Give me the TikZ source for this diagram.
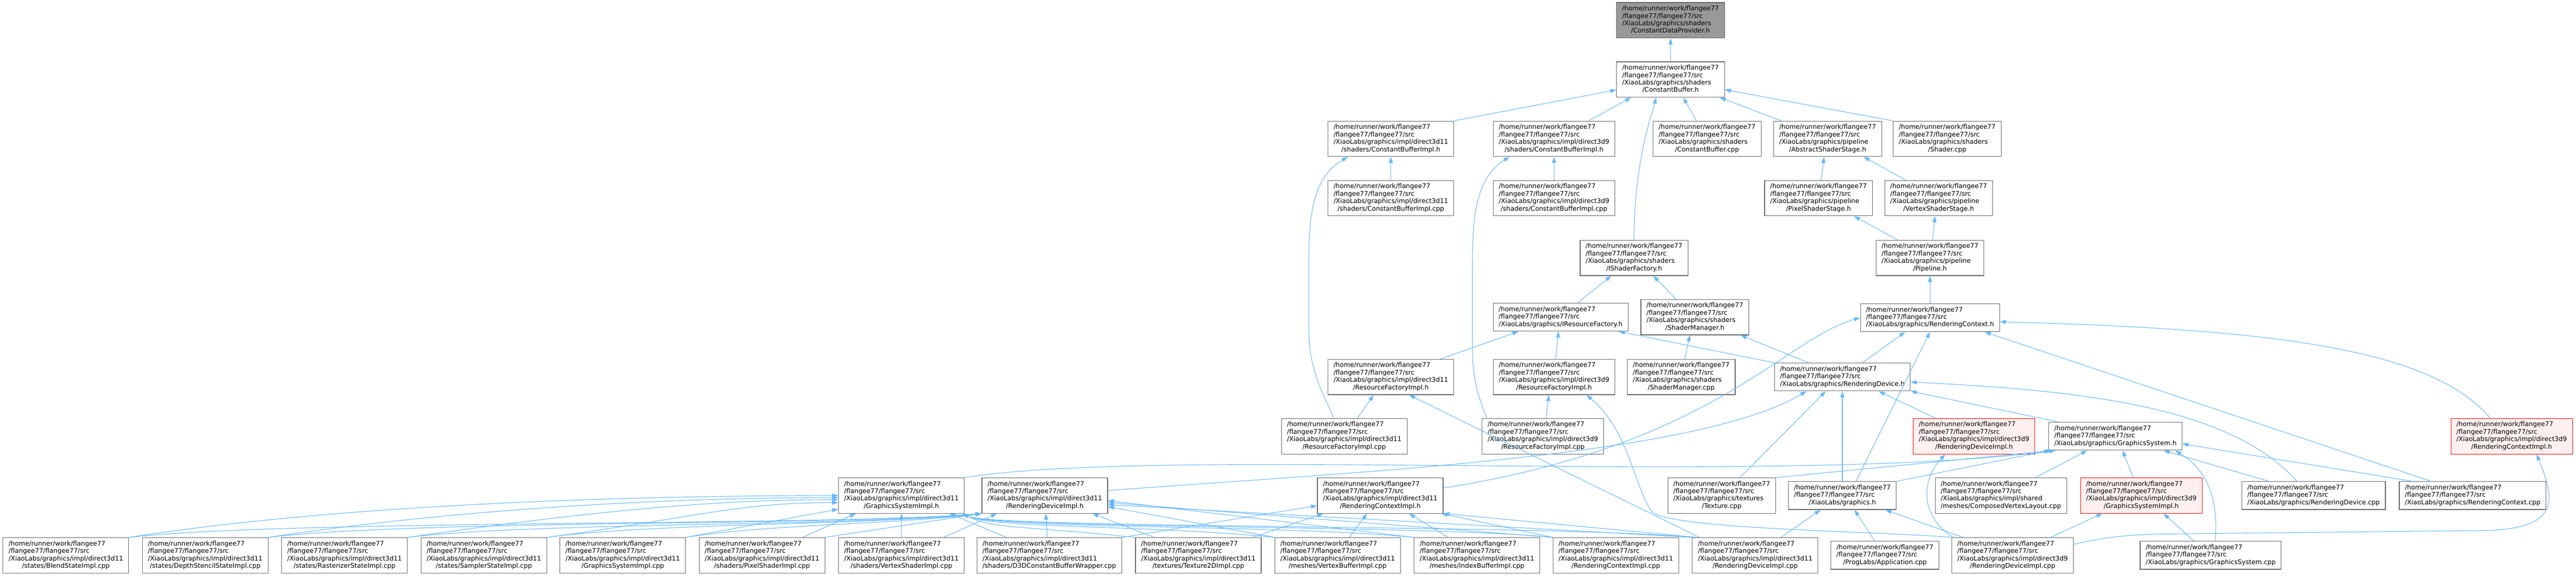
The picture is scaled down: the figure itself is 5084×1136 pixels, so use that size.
\documentclass[tikz,border=0pt]{standalone}
\usepackage{fontspec}
\setmainfont{DejaVu Sans}
\usetikzlibrary{arrows.meta}
\definecolor{boxgray}{HTML}{666666}
\definecolor{rootgray}{HTML}{999999}
\definecolor{edgeblue}{HTML}{63B8FF}
\definecolor{cutpink}{HTML}{FFF0F0}
\def\srcpath{/home/runner/work/flangee77\\/flangee77/flangee77/src}
\newcommand\flab[2]{\begin{tabular}{@{}l@{}}#1\\\multicolumn{1}{@{}c@{}}{#2}\end{tabular}}
\def\dinc{\draw[incl]}
\tikzset{
  filenode/.style={draw=boxgray, fill=white, line width=1.2pt, inner xsep=11pt, inner ysep=5.5pt,
    font=\fontsize{12.77}{14.7}\selectfont},
  rootnode/.style={filenode, fill=rootgray},
  cutnode/.style={filenode, draw=red, fill=cutpink},
  incl/.style={<-, >={Triangle[length=12pt,width=8pt]}, draw=edgeblue, line width=1.1pt},
}

\begin{document}
\begin{tikzpicture}[x=1pt,y=-1pt]
\path[use as bounding box, fill=white] (0,0) rectangle (5084,1136);

% upper part
\node[rootnode] (cdp) at (3297,40) {\flab{\srcpath\\/XiaoLabs/graphics/shaders}{/ConstantDataProvider.h}};
\node[filenode] (cb) at (3297,157) {\flab{\srcpath\\/XiaoLabs/graphics/shaders}{/ConstantBuffer.h}};
\node[filenode] (cb11h) at (2745,274) {\flab{\srcpath\\/XiaoLabs/graphics/impl/direct3d11}{/shaders/ConstantBufferImpl.h}};
\node[filenode] (cb9h) at (3067,274) {\flab{\srcpath\\/XiaoLabs/graphics/impl/direct3d9}{/shaders/ConstantBufferImpl.h}};
\node[filenode] (cbcpp) at (3369,274) {\flab{\srcpath\\/XiaoLabs/graphics/shaders}{/ConstantBuffer.cpp}};
\node[filenode] (ass) at (3607,274) {\flab{\srcpath\\/XiaoLabs/graphics/pipeline}{/AbstractShaderStage.h}};
\node[filenode] (shcpp) at (3843,274) {\flab{\srcpath\\/XiaoLabs/graphics/shaders}{/Shader.cpp}};
\node[filenode] (cb11cpp) at (2745,391) {\flab{\srcpath\\/XiaoLabs/graphics/impl/direct3d11}{/shaders/ConstantBufferImpl.cpp}};
\node[filenode] (cb9cpp) at (3067,391) {\flab{\srcpath\\/XiaoLabs/graphics/impl/direct3d9}{/shaders/ConstantBufferImpl.cpp}};
\node[filenode] (pss) at (3589,391) {\flab{\srcpath\\/XiaoLabs/graphics/pipeline}{/PixelShaderStage.h}};
\node[filenode] (vss) at (3826,391) {\flab{\srcpath\\/XiaoLabs/graphics/pipeline}{/VertexShaderStage.h}};
\node[filenode] (isf) at (3225,509) {\flab{\srcpath\\/XiaoLabs/graphics/shaders}{/IShaderFactory.h}};
\node[filenode] (pl) at (3809,509) {\flab{\srcpath\\/XiaoLabs/graphics/pipeline}{/Pipeline.h}};
\node[filenode] (irf) at (3080,626) {\flab{\srcpath}{/XiaoLabs/graphics/IResourceFactory.h}};
\node[filenode] (sm) at (3345,626) {\flab{\srcpath\\/XiaoLabs/graphics/shaders}{/ShaderManager.h}};
\node[filenode] (rc) at (3809,627) {\flab{\srcpath}{/XiaoLabs/graphics/RenderingContext.h}};
\node[filenode] (rf11h) at (2745,744) {\flab{\srcpath\\/XiaoLabs/graphics/impl/direct3d11}{/ResourceFactoryImpl.h}};
\node[filenode] (rf9h) at (3067,744) {\flab{\srcpath\\/XiaoLabs/graphics/impl/direct3d9}{/ResourceFactoryImpl.h}};
\node[filenode] (smcpp) at (3318,744) {\flab{\srcpath\\/XiaoLabs/graphics/shaders}{/ShaderManager.cpp}};
\node[filenode] (rd) at (3636,744) {\flab{\srcpath}{/XiaoLabs/graphics/RenderingDevice.h}};
\node[filenode] (rf11cpp) at (2653,861) {\flab{\srcpath\\/XiaoLabs/graphics/impl/direct3d11}{/ResourceFactoryImpl.cpp}};
\node[filenode] (rf9cpp) at (3045,861) {\flab{\srcpath\\/XiaoLabs/graphics/impl/direct3d9}{/ResourceFactoryImpl.cpp}};
\node[cutnode] (rd9h) at (3896,861) {\flab{\srcpath\\/XiaoLabs/graphics/impl/direct3d9}{/RenderingDeviceImpl.h}};
\node[filenode] (gs) at (4175,861) {\flab{\srcpath}{/XiaoLabs/graphics/GraphicsSystem.h}};
\node[cutnode] (rc9h) at (4957,861) {\flab{\srcpath\\/XiaoLabs/graphics/impl/direct3d9}{/RenderingContextImpl.h}};

% lower part
\node[filenode] (gs11h) at (1779,978) {\flab{\srcpath\\/XiaoLabs/graphics/impl/direct3d11}{/GraphicsSystemImpl.h}};
\node[filenode] (rd11h) at (2062,978) {\flab{\srcpath\\/XiaoLabs/graphics/impl/direct3d11}{/RenderingDeviceImpl.h}};
\node[filenode] (rc11h) at (2724,978) {\flab{\srcpath\\/XiaoLabs/graphics/impl/direct3d11}{/RenderingContextImpl.h}};
\node[filenode] (texcpp) at (3398,978) {\flab{\srcpath\\/XiaoLabs/graphics/textures}{/Texture.cpp}};
\node[filenode] (gfx) at (3636,978) {\flab{\srcpath}{/XiaoLabs/graphics.h}};
\node[filenode] (cvl) at (3949,978) {\flab{\srcpath\\/XiaoLabs/graphics/impl/shared}{/meshes/ComposedVertexLayout.cpp}};
\node[cutnode] (gs9h) at (4226,978) {\flab{\srcpath\\/XiaoLabs/graphics/impl/direct3d9}{/GraphicsSystemImpl.h}};
\node[filenode] (rdcpp) at (4566,978) {\flab{\srcpath}{/XiaoLabs/graphics/RenderingDevice.cpp}};
\node[filenode] (rccpp) at (4880,978) {\flab{\srcpath}{/XiaoLabs/graphics/RenderingContext.cpp}};

\node[filenode] (b1) at (130,1096) {\flab{\srcpath\\/XiaoLabs/graphics/impl/direct3d11}{/states/BlendStateImpl.cpp}};
\node[filenode] (b2) at (405,1096) {\flab{\srcpath\\/XiaoLabs/graphics/impl/direct3d11}{/states/DepthStencilStateImpl.cpp}};
\node[filenode] (b3) at (680,1096) {\flab{\srcpath\\/XiaoLabs/graphics/impl/direct3d11}{/states/RasterizerStateImpl.cpp}};
\node[filenode] (b4) at (955,1096) {\flab{\srcpath\\/XiaoLabs/graphics/impl/direct3d11}{/states/SamplerStateImpl.cpp}};
\node[filenode] (b5) at (1229,1096) {\flab{\srcpath\\/XiaoLabs/graphics/impl/direct3d11}{/GraphicsSystemImpl.cpp}};
\node[filenode] (b6) at (1504,1096) {\flab{\srcpath\\/XiaoLabs/graphics/impl/direct3d11}{/shaders/PixelShaderImpl.cpp}};
\node[filenode] (b7) at (1779,1096) {\flab{\srcpath\\/XiaoLabs/graphics/impl/direct3d11}{/shaders/VertexShaderImpl.cpp}};
\node[filenode] (b8) at (2071,1096) {\flab{\srcpath\\/XiaoLabs/graphics/impl/direct3d11}{/shaders/D3DConstantBufferWrapper.cpp}};
\node[filenode] (b9) at (2365,1096) {\flab{\srcpath\\/XiaoLabs/graphics/impl/direct3d11}{/textures/Texture2DImpl.cpp}};
\node[filenode] (b10) at (2640,1096) {\flab{\srcpath\\/XiaoLabs/graphics/impl/direct3d11}{/meshes/VertexBufferImpl.cpp}};
\node[filenode] (b11) at (2915,1096) {\flab{\srcpath\\/XiaoLabs/graphics/impl/direct3d11}{/meshes/IndexBufferImpl.cpp}};
\node[filenode] (b12) at (3189,1096) {\flab{\srcpath\\/XiaoLabs/graphics/impl/direct3d11}{/RenderingContextImpl.cpp}};
\node[filenode] (b13) at (3464,1096) {\flab{\srcpath\\/XiaoLabs/graphics/impl/direct3d11}{/RenderingDeviceImpl.cpp}};
\node[filenode] (app) at (3720,1096) {\flab{\srcpath}{/ProgLabs/Application.cpp}};
\node[filenode] (rd9cpp) at (3972,1096) {\flab{\srcpath\\/XiaoLabs/graphics/impl/direct3d9}{/RenderingDeviceImpl.cpp}};
\node[filenode] (gscpp) at (4363,1096) {\flab{\srcpath}{/XiaoLabs/graphics/GraphicsSystem.cpp}};

% includes, upper part
\dinc (cdp) -- (cb);
\dinc (cb) -- (cb11h.north east);
\dinc ([xshift=-78pt]cb.south) -- ([xshift=-52pt]cb9h.north east);
\dinc ([xshift=25pt]cb.south) -- ([xshift=-21pt]cbcpp.north);
\dinc ([xshift=-10pt]cb.south east) -- ([xshift=16pt]ass.north west);
\dinc (cb) -- (shcpp.north west);
\dinc ([xshift=-28pt]cb.south) .. controls (3255,240) and (3225,330) .. (isf.north);
\dinc (cb11h) -- (cb11cpp);
\dinc (cb9h) -- (cb9cpp);
\dinc ([xshift=-85pt]cb11h.south) .. controls (2592,350) and (2583,420) .. (2583,520)
  -- (2583,650) .. controls (2583,740) and (2620,790) .. ([xshift=-21pt]rf11cpp.north);
\dinc ([xshift=-88pt]cb9h.south) .. controls (2915,350) and (2906,420) .. (2906,520)
  -- (2906,690) .. controls (2906,760) and (2925,800) .. ([xshift=10pt]rf9cpp.north west);
\dinc ([xshift=-7pt]ass.south) -- ([xshift=5pt]pss.north);
\dinc ([xshift=71pt]ass.south) -- ([xshift=-65pt]vss.north);
\dinc ([xshift=70pt]pss.south) -- ([xshift=-64pt]pl.north);
\dinc ([xshift=-7pt]vss.south) -- ([xshift=5pt]pl.north);
\dinc (pl) -- (rc);
\dinc ([xshift=-45pt]isf.south) -- ([xshift=33pt]irf.north);
\dinc ([xshift=38pt]isf.south) -- ([xshift=-37pt]sm.north);
\dinc ([xshift=-83pt]irf.south) -- ([xshift=-27pt]rf11h.north east);
\dinc ([xshift=-4pt]irf.south) -- ([xshift=3pt]rf9h.north);
\dinc ([xshift=-10pt]sm.south) -- ([xshift=7pt]smcpp.north);
\dinc ([xshift=-19pt]irf.south east) -- (rd.north west);
\dinc ([xshift=-17pt]sm.south east) -- ([xshift=68pt]rd.north west);
\dinc ([xshift=-49pt]rc.south) -- ([xshift=40pt]rd.north);
\dinc ([xshift=-34pt]rf11h.south) -- ([xshift=26pt]rf11cpp.north);
\dinc ([xshift=-10pt]rf9h.south) -- ([xshift=6pt]rf9cpp.north);
\dinc ([xshift=72pt]rd.south) -- ([xshift=-76pt]rd9h.north);
\dinc (rd.south east) -- ([xshift=21pt]gs.north west);

% includes, middle part
\dinc ([xshift=14pt]gs.south west) .. controls (3500,960) and (2300,880) .. (gs11h.north east);
\dinc ([xshift=-71pt]rd.south) .. controls (3350,900) and (2700,930) .. ([yshift=10pt]rd11h.east);
\dinc (rc.west) .. controls (3520,670) and (3380,880) .. ([yshift=15pt]rc11h.east);
\dinc ([xshift=-33pt]rd.south) -- ([xshift=36pt]texcpp.north);
\dinc ([xshift=8pt]gs.south west) -- (texcpp.north east);
\dinc (rd) -- (gfx);
\dinc (rc.south) -- ([xshift=27pt]gfx.north);
\dinc ([xshift=3pt]gs.south west) -- (gfx.north east);
\dinc ([xshift=-56pt]gs.south) -- ([xshift=68pt]cvl.north);
\dinc ([xshift=14pt]gs.south) -- ([xshift=-16pt]gs9h.north);
\dinc ([yshift=-10pt]rd.east) .. controls (4100,770) and (4400,800) .. ([xshift=-33pt]rdcpp.north);
\dinc ([xshift=95pt]gs.south) -- ([xshift=-88pt]rdcpp.north);
\dinc ([xshift=-30pt]rc.south east) -- ([xshift=-82pt]rccpp.north);
\dinc ([yshift=-15pt]gs.east) -- ([xshift=-119pt]rccpp.north);
\dinc ([yshift=-8pt]rc.east) .. controls (4500,650) and (4800,690) .. ([xshift=-42pt]rc9h.north);
\dinc ([xshift=-57pt]rd9h.south) .. controls (3790,950) and (3790,1020) .. ([xshift=-117pt]rd9cpp.north);
\dinc ([xshift=-77pt]gs9h.south) -- ([xshift=75pt]rd9cpp.north);
\dinc ([xshift=85pt]gfx.south) -- ([xshift=-98pt]rd9cpp.north);
\dinc ([xshift=49pt]rc9h.south) .. controls (5040,980) and (5060,1045) .. (4900,1047)
  -- (4260,1054) .. controls (4180,1056) and (4130,1065) .. ([yshift=-14pt]rd9cpp.north east);
\dinc ([xshift=64pt]rf9h.south) .. controls (3215,850) and (3225,960) .. (3260,1010)
  .. controls (3300,1045) and (3700,1048) .. (rd9cpp.north west);
\dinc ([xshift=118pt]gs.south) .. controls (4360,930) and (4378,990) .. ([xshift=9pt]gscpp.north);
\dinc ([xshift=44pt]gs9h.south) -- ([xshift=-33pt]gscpp.north);
\dinc ([xshift=24pt]gfx.south) -- ([xshift=-20pt]app.north);
\dinc ([xshift=-43pt]gfx.south) -- ([xshift=51pt]b13.north);
\dinc ([xshift=36pt]rf11h.south) -- ([xshift=-110pt]b13.north);

% includes, direct3d11 sources
\dinc (gs11h.west) .. controls +(-350,0) and +(450,-70) .. (b1.north east);
\dinc ([yshift=-4pt]gs11h.west) .. controls +(-300,0) and +(400,-60) .. (b2.north east);
\dinc ([yshift=-8pt]gs11h.west) .. controls +(-250,0) and +(350,-50) .. (b3.north east);
\dinc ([yshift=-14pt]gs11h.west) .. controls +(-200,0) and +(300,-40) .. (b4.north east);
\dinc ([yshift=-27pt]gs11h.west) -- (b5.north east);
\dinc ([xshift=-90pt]gs11h.south) -- ([xshift=80pt]b6.north);
\dinc (gs11h) -- (b7);
\dinc ([xshift=95pt]gs11h.south) -- ([xshift=-85pt]b8.north);
\dinc ([xshift=-4pt]gs11h.south east) .. controls +(60,30) and +(-250,-25) .. (b9.north west);
\dinc ([xshift=-4pt]gs11h.south east) .. controls +(60,30) and +(-250,-25) .. (b10.north west);
\dinc ([xshift=-4pt]gs11h.south east) .. controls +(60,30) and +(-250,-25) .. (b11.north west);
\dinc ([xshift=-4pt]gs11h.south east) .. controls +(60,30) and +(-250,-25) .. (b12.north west);
\dinc ([xshift=-4pt]gs11h.south east) .. controls +(60,30) and +(-250,-25) .. (b13.north west);
\dinc (rd11h.south west) .. controls +(-300,25) and +(300,-35) .. (b1.north east);
\dinc (rd11h.south west) .. controls +(-300,25) and +(300,-35) .. (b2.north east);
\dinc (rd11h.south west) .. controls +(-250,25) and +(250,-30) .. (b3.north east);
\dinc (rd11h.south west) .. controls +(-200,22) and +(200,-28) .. (b4.north east);
\dinc (rd11h.south west) .. controls +(-150,20) and +(150,-25) .. (b5.north east);
\dinc (rd11h.south west) -- (b6.north east);
\dinc ([xshift=30pt]rd11h.south west) -- ([xshift=83pt]b7.north);
\dinc ([xshift=2pt]rd11h.south) -- ([xshift=-4pt]b8.north);
\dinc ([xshift=94pt]rd11h.south) -- ([xshift=-87pt]b9.north);
\dinc ([yshift=-22pt]rd11h.east) -- (b10.north west);
\dinc ([yshift=-10pt]rd11h.east) -- (b11.north west);
\dinc ([yshift=-14pt]rd11h.east) -- (b12.north west);
\dinc ([yshift=-18pt]rd11h.east) -- (b13.north west);
\dinc ([yshift=-20pt]rc11h.west) -- (b8.north east);
\dinc ([xshift=-112pt]rc11h.south) -- ([xshift=107pt]b9.north);
\dinc ([xshift=-26pt]rc11h.south) -- ([xshift=23pt]b10.north);
\dinc ([xshift=57pt]rc11h.south) -- ([xshift=-57pt]b11.north);
\dinc ([xshift=-4pt]rc11h.south east) -- (b12.north west);
\dinc (rc11h.south east) -- ([xshift=10pt]b13.north west);
\end{tikzpicture}
\end{document}
